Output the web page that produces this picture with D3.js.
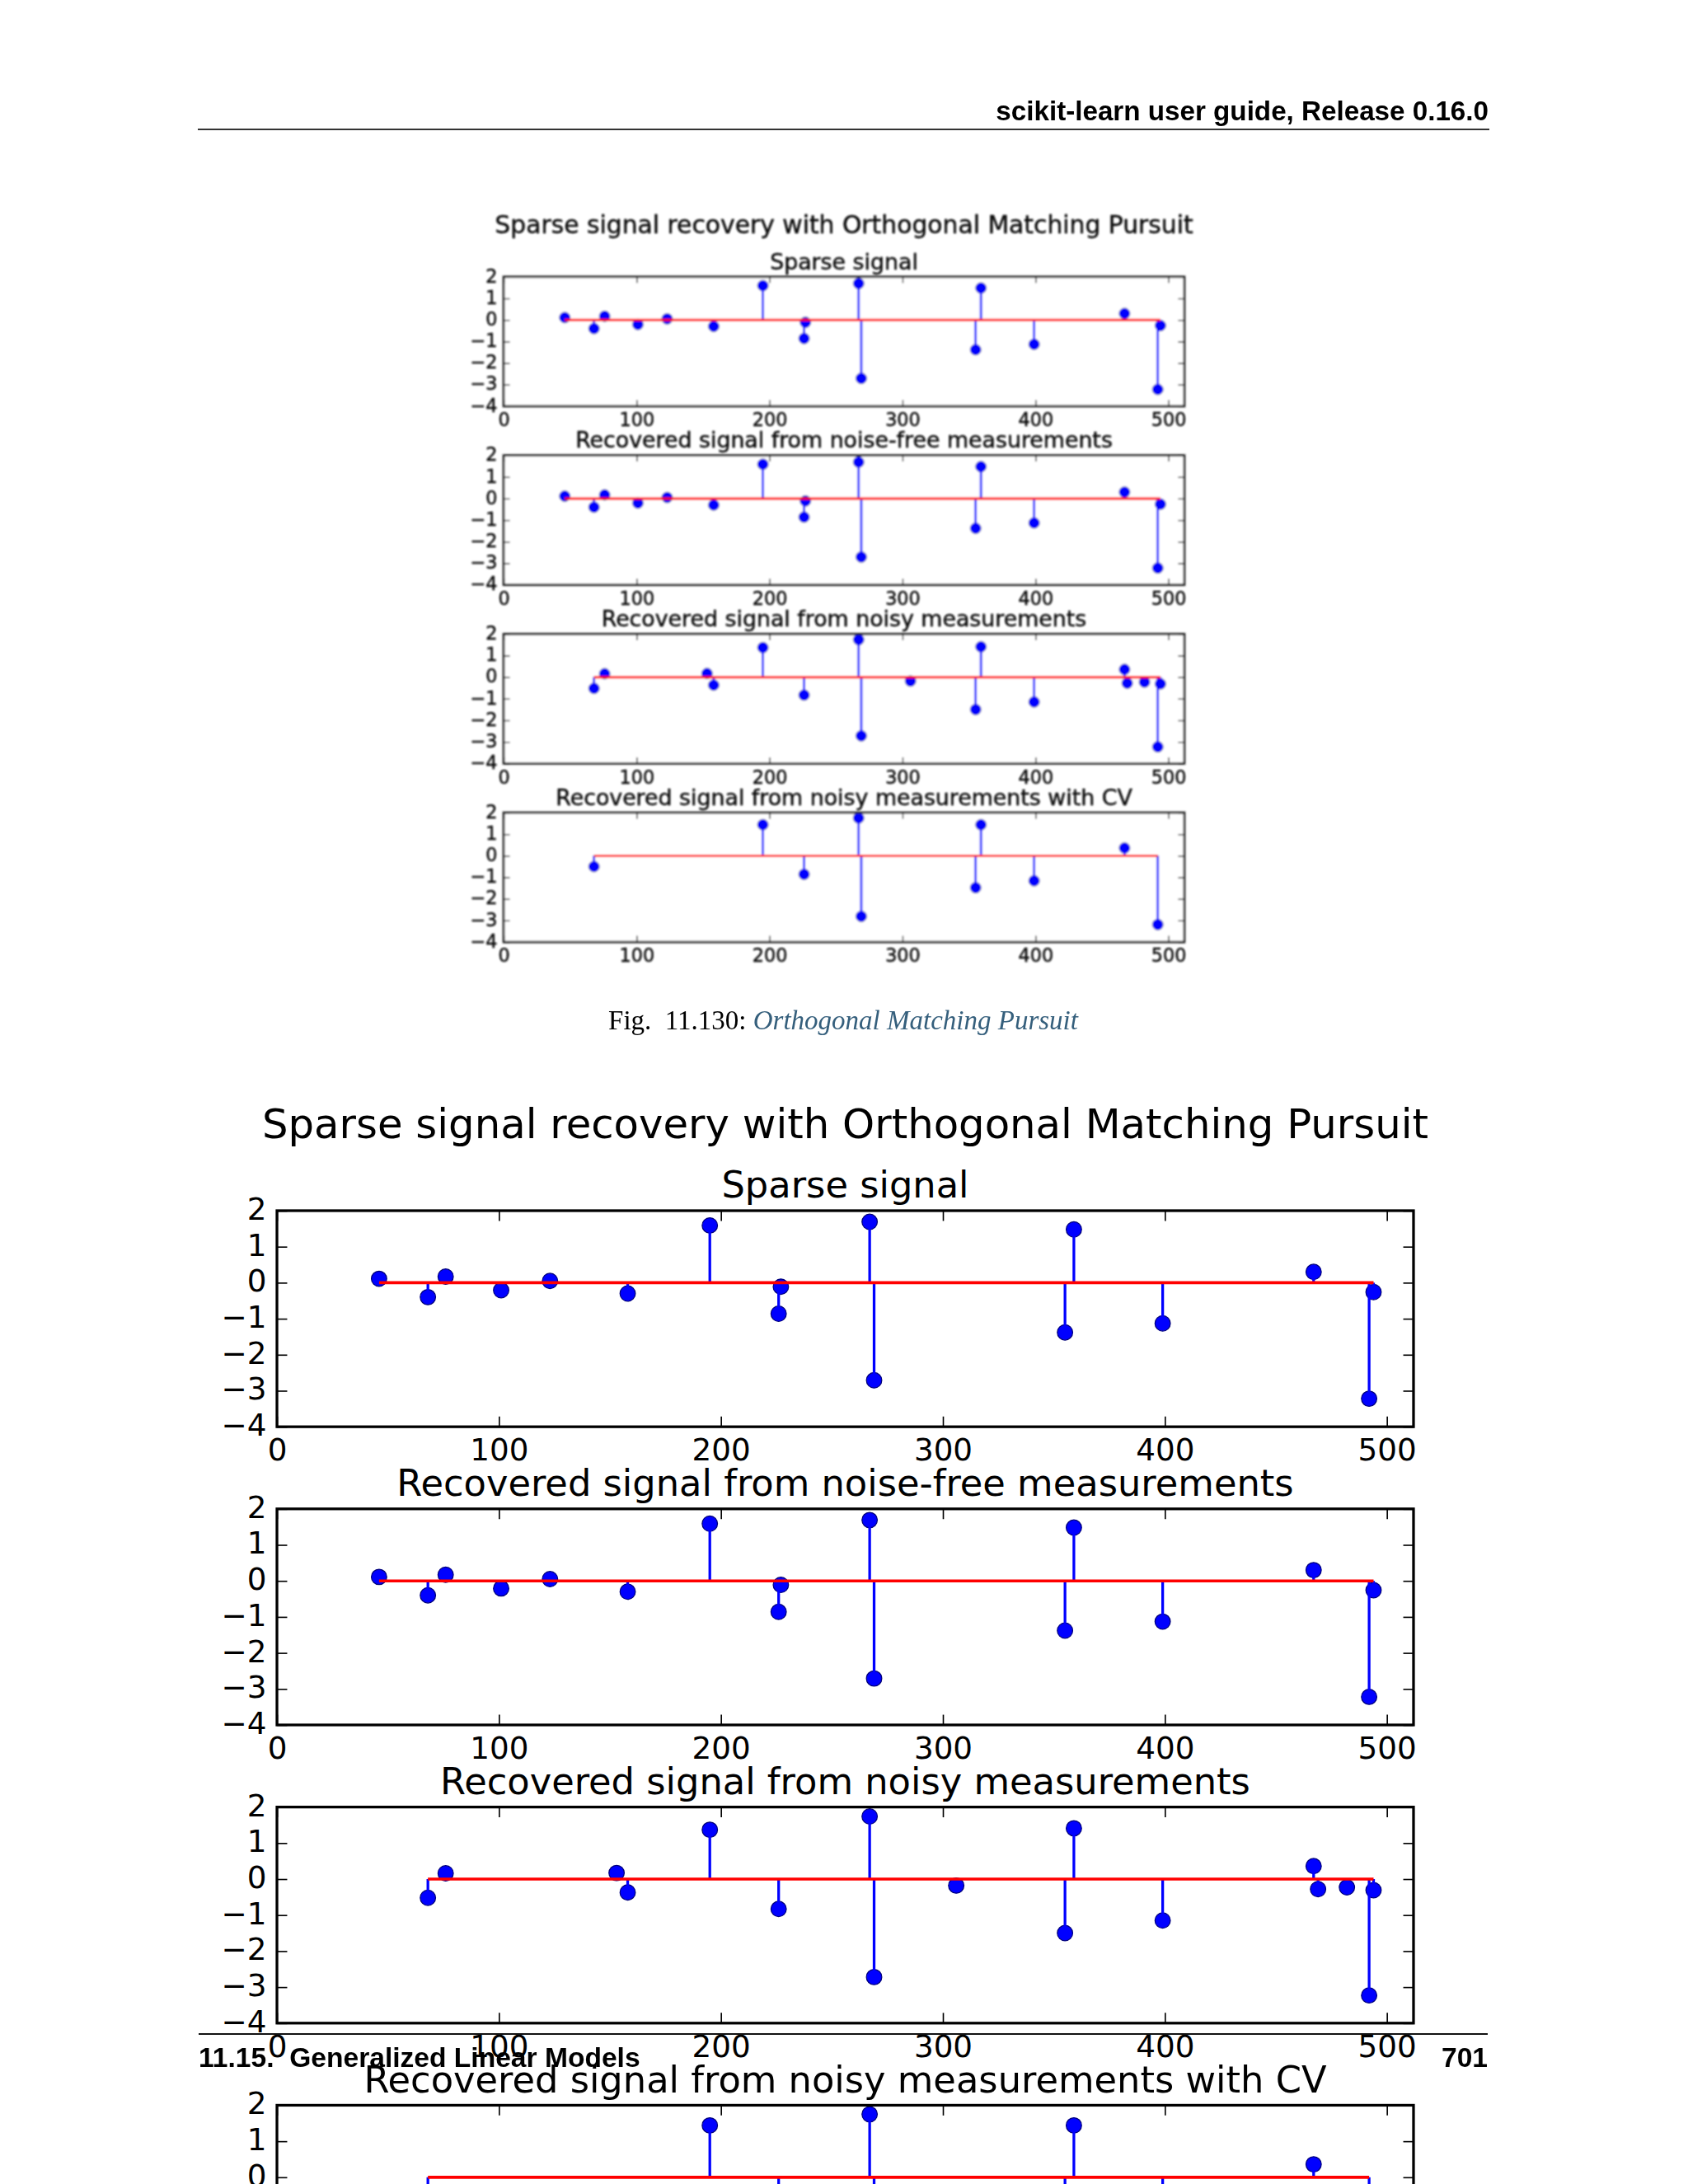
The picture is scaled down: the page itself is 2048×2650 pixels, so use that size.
<!DOCTYPE html>
<html><head><meta charset="utf-8">
<script src="https://cdn.jsdelivr.net/npm/d3@7"></script>
<style>body{margin:0;background:#fff}svg{display:block}text{white-space:pre}</style>
</head><body>
<svg id="page" width="2048" height="2650"></svg>
<script>
// ---------------- data ----------------
const suptitle = "Sparse signal recovery with Orthogonal Matching Pursuit";
const panelTitles = [
  "Sparse signal",
  "Recovered signal from noise-free measurements",
  "Recovered signal from noisy measurements",
  "Recovered signal from noisy measurements with CV"
];
const xDomain = [0, 512];
const yDomain = [-4, 2];
const xTickValues = [0, 100, 200, 300, 400, 500];
const yTickValues = [2, 1, 0, -1, -2, -3, -4];

const sparseIdx = [46, 68, 76, 101, 123, 158, 195, 226, 227, 267, 269, 355, 359, 399, 467, 492, 494];
const sparseVal = [0.11, -0.40, 0.17, -0.21, 0.05, -0.30, 1.59, -0.86, -0.11, 1.69, -2.71, -1.38, 1.48, -1.13, 0.30, -3.22, -0.26];

const noiseFreeIdx = [46, 68, 76, 101, 123, 158, 195, 226, 227, 267, 269, 355, 359, 399, 467, 492, 494];
const noiseFreeVal = [0.11, -0.40, 0.17, -0.21, 0.05, -0.30, 1.59, -0.86, -0.11, 1.69, -2.71, -1.38, 1.48, -1.13, 0.30, -3.22, -0.26];

const noisyIdx = [68, 76, 153, 158, 195, 226, 267, 269, 306, 355, 359, 399, 467, 469, 482, 492, 494];
const noisyVal = [-0.52, 0.16, 0.17, -0.37, 1.37, -0.83, 1.74, -2.72, -0.18, -1.50, 1.41, -1.15, 0.36, -0.28, -0.23, -3.23, -0.31];

const cvIdx = [68, 195, 226, 267, 269, 355, 359, 399, 467, 492];
const cvVal = [-0.50, 1.44, -0.86, 1.75, -2.81, -1.48, 1.44, -1.16, 0.36, -3.19];

const headerText = "scikit-learn user guide, Release 0.16.0";
const captionPrefix = "Fig.  11.130: ";
const captionLink = "Orthogonal Matching Pursuit";
const footerLeft = "11.15.  Generalized Linear Models";
const footerRight = "701";

const series = [
  {idx: sparseIdx, val: sparseVal},
  {idx: noiseFreeIdx, val: noiseFreeVal},
  {idx: noisyIdx, val: noisyVal},
  {idx: cvIdx, val: cvVal}
];

// ---------------- drawing ----------------
const svg = d3.select("#page");
svg.append("rect").attr("width", 2048).attr("height", 2650).attr("fill", "#fff");

const defs = svg.append("defs");
defs.append("filter").attr("id", "soft").attr("x", "-5%").attr("y", "-5%").attr("width", "110%").attr("height", "110%")
  .append("feGaussianBlur").attr("stdDeviation", 0.8);

const intFmt = d3.format("d");

function drawFigure(root, cfg) {
  const S = cfg.S, k = S / 1567, pt = 3.109 * k, lw = cfg.lw || 1;
  const g = root.append("g");
  if (cfg.filter) g.attr("filter", cfg.filter);
  const font = "DejaVu Sans";
  const axL = cfg.fx + 0.06 * S, axW = 0.88 * S, h = 0.86 * S / 5.14;
  const tc = cfg.textColor || "#000";

  g.append("text")
    .attr("x", cfg.fx + S / 2)
    .attr("y", cfg.fy + 0.02 * S + 0.76 * 16 * pt)
    .attr("text-anchor", "middle")
    .attr("font-family", font).attr("font-size", 16 * pt)
    .attr("fill", tc).attr("stroke", cfg.textStroke ? tc : "none").attr("stroke-width", cfg.textStroke || 0)
    .text(suptitle);

  series.forEach((s, i) => {
    const axT = cfg.fy + 0.10 * S + i * 1.38 * h, axB = axT + h;
    const x = d3.scaleLinear().domain(xDomain).range([axL, axL + axW]);
    const y = d3.scaleLinear().domain(yDomain).range([axB, axT]);
    const pg = g.append("g");

    pg.append("rect").attr("x", axL).attr("y", axT).attr("width", axW).attr("height", h).attr("fill", "#fff");

    const tl = 4 * pt, tp = 4 * pt, tfs = 12 * pt;
    const styleAxis = (ag, dyEm) => {
      ag.attr("font-family", font).attr("font-size", tfs).attr("color", tc);
      ag.select(".domain").remove();
      ag.selectAll(".tick line").attr("stroke", "#000").attr("stroke-width", 0.5 * pt * lw);
      if (dyEm !== undefined) {
        ag.selectAll(".tick text").attr("dy", dyEm);
        if (cfg.textStroke) ag.selectAll(".tick text").attr("stroke", tc).attr("stroke-width", cfg.textStroke);
      }
    };
    const bx = pg.append("g").attr("transform", `translate(0,${axB})`)
      .call(d3.axisBottom(x).tickValues(xTickValues).tickFormat(intFmt).tickSize(-tl).tickPadding(tp));
    styleAxis(bx, "0.76em");
    const tx = pg.append("g").attr("transform", `translate(0,${axT})`)
      .call(d3.axisTop(x).tickValues(xTickValues).tickSize(-tl).tickFormat(""));
    styleAxis(tx);
    const ly = pg.append("g").attr("transform", `translate(${axL},0)`)
      .call(d3.axisLeft(y).tickValues(yTickValues).tickFormat(intFmt).tickSize(-tl).tickPadding(tp));
    styleAxis(ly, "0.28em");
    const ry = pg.append("g").attr("transform", `translate(${axL + axW},0)`)
      .call(d3.axisRight(y).tickValues(yTickValues).tickSize(-tl).tickFormat(""));
    styleAxis(ry);

    const pts = s.idx.map((d, j) => ({i: d, v: s.val[j]}));
    // markers (drawn first, as matplotlib stem does)
    pg.append("g").selectAll("circle").data(pts).join("circle")
      .attr("cx", d => x(d.i)).attr("cy", d => y(d.v))
      .attr("r", 3 * pt * (cfg.mk || 1))
      .attr("fill", "#0000ff").attr("stroke", "#00007a").attr("stroke-width", 0.4 * pt);
    // stems
    pg.append("g").selectAll("line").data(pts).join("line")
      .attr("x1", d => x(d.i)).attr("x2", d => x(d.i))
      .attr("y1", y(0)).attr("y2", d => y(d.v))
      .attr("stroke", "#0000ff").attr("stroke-width", 1 * pt * lw);
    // baseline
    pg.append("line")
      .attr("x1", x(d3.min(s.idx))).attr("x2", x(d3.max(s.idx)))
      .attr("y1", y(0)).attr("y2", y(0))
      .attr("stroke", "#ff0000").attr("stroke-width", 1.1 * pt * lw);

    // frame
    pg.append("rect").attr("x", axL).attr("y", axT).attr("width", axW).attr("height", h)
      .attr("fill", "none").attr("stroke", cfg.frameColor || "#000").attr("stroke-width", 1 * pt * lw);

    // title
    pg.append("text")
      .attr("x", axL + axW / 2).attr("y", axT - 5 * pt)
      .attr("text-anchor", "middle")
      .attr("font-family", font).attr("font-size", 14.4 * pt)
      .attr("fill", tc).attr("stroke", cfg.textStroke ? tc : "none").attr("stroke-width", cfg.textStroke || 0)
      .text(panelTitles[i]);
  });
}

// small (raster-like, softened) figure in the page
drawFigure(svg, {S: 938.6, fx: 554.7, fy: 242, lw: 1.45, mk: 1.15, filter: "url(#soft)", textColor: "#111", textStroke: 0.5, frameColor: "#222"});
// large figure
drawFigure(svg, {S: 1567, fx: 242, fy: 1312.3, lw: 1.05});

// page furniture
const page = svg.append("g");
page.append("text").attr("x", 1806).attr("y", 146).attr("text-anchor", "end")
  .attr("font-family", "Liberation Sans").attr("font-weight", "bold").attr("font-size", 33.2)
  .attr("fill", "#000").text(headerText);
page.append("line").attr("x1", 240).attr("x2", 1807).attr("y1", 157).attr("y2", 157)
  .attr("stroke", "#333").attr("stroke-width", 1.8);

const cap = page.append("text").attr("x", 1023).attr("y", 1249).attr("text-anchor", "middle")
  .attr("font-family", "Liberation Serif").attr("font-size", 33);
cap.append("tspan").attr("fill", "#000").text(captionPrefix);
cap.append("tspan").attr("fill", "#355f7c").attr("font-style", "italic").text(captionLink);

page.append("line").attr("x1", 241).attr("x2", 1805).attr("y1", 2468).attr("y2", 2468)
  .attr("stroke", "#111").attr("stroke-width", 1.8);
page.append("text").attr("x", 241).attr("y", 2508)
  .attr("font-family", "Liberation Sans").attr("font-weight", "bold").attr("font-size", 33.6)
  .attr("fill", "#000").text(footerLeft);
page.append("text").attr("x", 1805).attr("y", 2508).attr("text-anchor", "end")
  .attr("font-family", "Liberation Sans").attr("font-weight", "bold").attr("font-size", 33.6)
  .attr("fill", "#000").text(footerRight);
</script>
</body></html>
